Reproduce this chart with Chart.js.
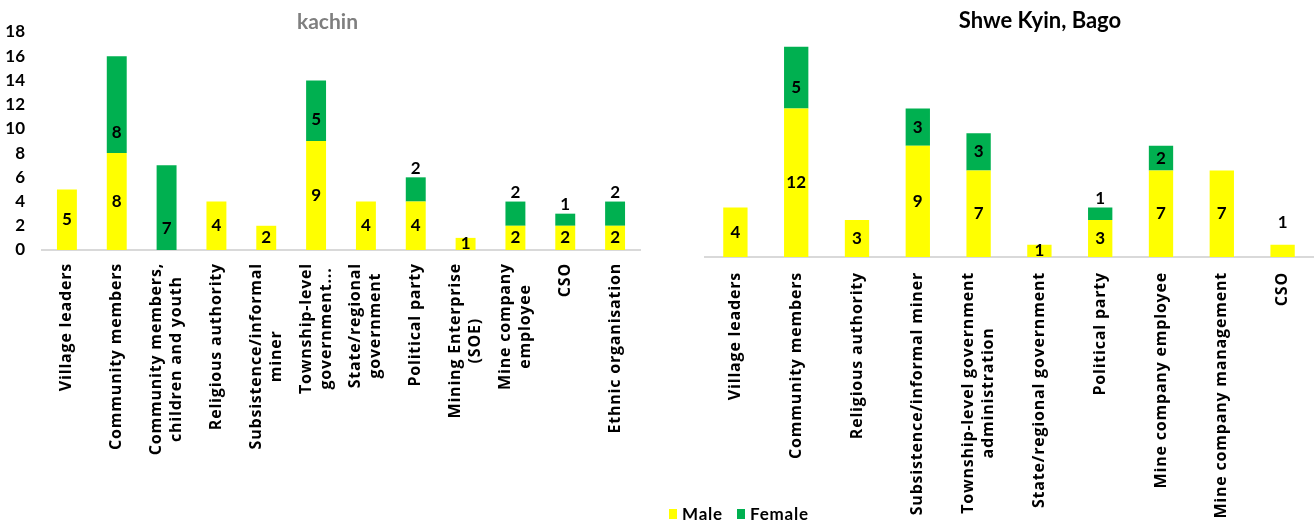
<!DOCTYPE html>
<html>
<head>
<meta charset="utf-8">
<script src="https://cdn.jsdelivr.net/npm/chart.js@4.4.1/dist/chart.umd.min.js"></script>
<style>
html,body{margin:0;padding:0;background:#fff;overflow:hidden;}
#wrap{position:relative;width:1314px;height:528px;overflow:hidden;background:#fff;}
#c1{position:absolute;left:0;top:0;}
#c2{position:absolute;left:655px;top:0;}
#legend{position:absolute;left:669px;top:503px;font-family:Lato,sans-serif;font-weight:bold;font-size:17px;letter-spacing:0.8px;color:#000;display:flex;align-items:center;}
#legend span.box{display:inline-block;width:8px;height:10px;margin-right:5px;}
#legend span.item{display:inline-flex;align-items:center;margin-right:14px;}
</style>
</head>
<body>
<div id="wrap">
<canvas id="c1" width="655" height="528" style="width:655px;height:528px"></canvas>
<canvas id="c2" width="770" height="528" style="width:770px;height:528px"></canvas>
<div id="legend">
  <span class="item"><span class="box" style="background:#FFFF00"></span>Male</span>
  <span class="item"><span class="box" style="background:#00B050"></span>Female</span>
</div>
</div>
<script>
// ---------- DATA ----------
const kachinCategories = [
  ["Village leaders"],
  ["Community members"],
  ["Community members,", "children and youth"],
  ["Religious authority"],
  ["Subsistence/informal", "miner"],
  ["Township-level", "government..."],
  ["State/regional", "government"],
  ["Political party"],
  ["Mining Enterprise", "(SOE)"],
  ["Mine company", "employee"],
  ["CSO"],
  ["Ethnic organisation"]
];
const kachinMale   = [5, 8, 0, 4, 2, 9, 4, 4, 1, 2, 2, 2];
const kachinFemale = [0, 8, 7, 0, 0, 5, 0, 2, 0, 2, 1, 2];

const bagoCategories = [
  ["Village leaders"],
  ["Community members"],
  ["Religious authority"],
  ["Subsistence/informal miner"],
  ["Township-level government", "administration"],
  ["State/regional government"],
  ["Political party"],
  ["Mine company employee"],
  ["Mine company management"],
  ["CSO"]
];
const bagoMale   = [4, 12, 3, 9, 7, 1, 3, 7, 7, 1];
const bagoFemale = [0, 5, 0, 3, 3, 0, 1, 2, 0, 0];

const yTicks = [0, 2, 4, 6, 8, 10, 12, 14, 16, 18];

// label placement (indexes whose value label sits above the bar)
const kachinFemaleAbove = [7, 9, 10, 11];
const bagoFemaleAbove = [6];
const bagoMaleAbove = [9];

const YELLOW = '#FFFF00';
const GREEN = '#00B050';
const CAT_FONT = 'bold 16px "Open Sans", sans-serif';

// ---------- PLUGINS ----------
const catLabelPlugin = {
  id: 'catLabels',
  afterDraw(chart, args, opts) {
    const xs = chart.scales.x;
    const ctx = chart.ctx;
    const labels = chart.data.labels;
    ctx.save();
    ctx.font = CAT_FONT;
    try { ctx.letterSpacing = '0.8px'; } catch (e) {}
    ctx.fillStyle = '#000';
    ctx.textAlign = 'center';
    ctx.textBaseline = 'middle';
    const lh = opts.lineHeight || 20;
    labels.forEach((lines, i) => {
      const x = xs.getPixelForTick(i);
      const top = chart.chartArea.bottom + (opts.gap || 13);
      let W = 0;
      lines.forEach(l => { W = Math.max(W, ctx.measureText(l).width); });
      ctx.save();
      ctx.translate(x, top);
      ctx.rotate(-Math.PI / 2);
      const n = lines.length;
      lines.forEach((l, j) => {
        ctx.fillText(l, -W / 2, (j - (n - 1) / 2) * lh);
      });
      ctx.restore();
    });
    ctx.restore();
  }
};

const valueLabelPlugin = {
  id: 'valueLabels',
  afterDatasetsDraw(chart, args, opts) {
    const ctx = chart.ctx;
    ctx.save();
    ctx.font = 'bold 17px Lato, sans-serif';
    ctx.fillStyle = '#000';
    ctx.textAlign = 'center';
    ctx.textBaseline = 'middle';
    chart.data.datasets.forEach((ds, di) => {
      const meta = chart.getDatasetMeta(di);
      const above = ds.labelAbove || [];
      meta.data.forEach((el, i) => {
        const v = ds.data[i];
        if (!v) return;
        const top = Math.min(el.y, el.base);
        const base = Math.max(el.y, el.base);
        let y;
        if (above.includes(i)) {
          let stackTop = top;
          chart.data.datasets.forEach((d2, k) => {
            const e2 = chart.getDatasetMeta(k).data[i];
            if (d2.data[i]) stackTop = Math.min(stackTop, e2.y);
          });
          y = stackTop - (ds.aboveGap || 9);
        } else if (ds.labelMode === 'low') {
          y = Math.max(base - 21, (top + base) / 2);
        } else {
          y = (top + base) / 2;
        }
        ctx.fillText(String(v), el.x, y);
      });
    });
    ctx.restore();
  }
};

function makeChart(canvasId, cats, male, female, femaleAbove, maleAbove, cfg) {
  return new Chart(document.getElementById(canvasId), {
    type: 'bar',
    data: {
      labels: cats,
      datasets: [
        { label: 'Male', data: male, backgroundColor: YELLOW, borderWidth: 0,
          barPercentage: 0.4, categoryPercentage: 1.0, labelAbove: maleAbove, aboveGap: 22 },
        { label: 'Female', data: female, backgroundColor: GREEN, borderWidth: 0,
          barPercentage: 0.4, categoryPercentage: 1.0, labelAbove: femaleAbove, labelMode: 'low' }
      ]
    },
    options: {
      responsive: false,
      animation: false,
      events: [],
      layout: { padding: 0 },
      plugins: {
        legend: { display: false },
        tooltip: { enabled: false },
        title: {
          display: true,
          text: cfg.title,
          color: cfg.titleColor,
          font: { family: 'Lato', weight: 'bold', size: cfg.titleSize },
          padding: cfg.titlePadding
        },
        catLabels: { gap: cfg.labelGap, lineHeight: 20 }
      },
      scales: {
        x: {
          stacked: true,
          grid: { display: false },
          border: { display: true, color: '#D9D9D9', width: 2 },
          ticks: { display: false },
          afterFit: (s) => { s.height = cfg.xHeight; }
        },
        y: {
          stacked: true,
          display: true,
          min: 0,
          max: 18,
          grid: { display: false },
          border: { display: false },
          afterBuildTicks: (s) => { s.ticks = yTicks.map(v => ({ value: v })); },
          ticks: {
            display: cfg.showYTicks,
            color: '#000',
            padding: 9,
            font: { family: 'Lato', weight: 'bold', size: 17 }
          },
          afterFit: (s) => { s.width = cfg.yWidth; }
        },
        yRightSpace: {
          type: 'linear',
          position: 'right',
          display: true,
          min: 0,
          max: 18,
          grid: { display: false },
          border: { display: false },
          ticks: { display: false },
          afterFit: (s) => { s.width = cfg.rightSpace; }
        }
      }
    },
    plugins: [catLabelPlugin, valueLabelPlugin]
  });
}

function build() {
  makeChart('c1', kachinCategories, kachinMale, kachinFemale, kachinFemaleAbove, [], {
    title: 'kachin', titleColor: '#7F7F7F', titleSize: 21,
    titlePadding: { top: 10, bottom: -3.2 },
    yWidth: 42, rightSpace: 15, showYTicks: true,
    xHeight: 278, labelGap: 13
  });
  makeChart('c2', bagoCategories, bagoMale, bagoFemale, bagoFemaleAbove, bagoMaleAbove, {
    title: 'Shwe Kyin, Bago', titleColor: '#000000', titleSize: 22,
    titlePadding: { top: 8, bottom: 0 },
    yWidth: 50, rightSpace: 112, showYTicks: false,
    xHeight: 271, labelGap: 15
  });
}
if (document.fonts && document.fonts.load) {
  Promise.all([
    document.fonts.load(CAT_FONT, 'Abc'),
    document.fonts.load('bold 17px Lato', '123')
  ]).then(build, build);
} else {
  build();
}
</script>
</body>
</html>
